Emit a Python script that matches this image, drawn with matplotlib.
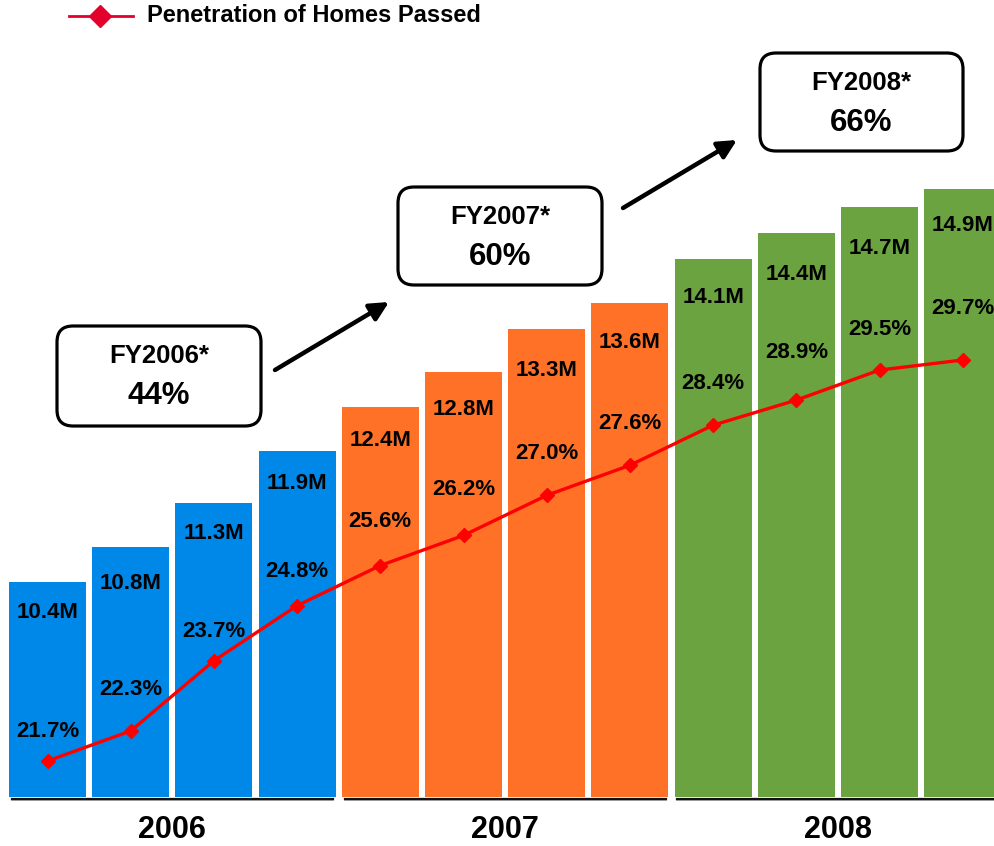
import matplotlib
matplotlib.use("Agg")
import matplotlib.pyplot as plt
from matplotlib.lines import Line2D
from matplotlib.patches import FancyBboxPatch, FancyArrowPatch
from matplotlib.transforms import blended_transform_factory

plt.rcParams['font.family'] = ['Liberation Sans', 'DejaVu Sans']
plt.rcParams['font.weight'] = 'bold'

# ---- data ----
years = ["2006", "2007", "2008"]
homes_passed = [10.4, 10.8, 11.3, 11.9, 12.4, 12.8, 13.3, 13.6, 14.1, 14.4, 14.7, 14.9]  # millions
penetration = [21.7, 22.3, 23.7, 24.8, 25.6, 26.2, 27.0, 27.6, 28.4, 28.9, 29.5, 29.7]   # percent
bar_year = ["2006"] * 4 + ["2007"] * 4 + ["2008"] * 4
fy_labels = ["FY2006*", "FY2007*", "FY2008*"]
fy_values = ["44%", "60%", "66%"]
legend_label = "Penetration of Homes Passed"

# ---- style ----
year_colors = {"2006": "#0088E8", "2007": "#FF7126", "2008": "#6AA33F"}
line_color = "#FF0000"
W, H, DPI = 994, 846, 100

fig = plt.figure(figsize=(W / DPI, H / DPI), dpi=DPI)
ax = fig.add_axes([0, (H - 797) / H, 1, 797 / H])
ax2 = ax.twinx()

x = list(range(len(homes_passed)))
colors = [year_colors[y] for y in bar_year]
ax.bar(x, homes_passed, width=0.925, color=colors, zorder=2)
ax.set_xlim(-0.571, 11.376)
ax.set_ylim(7.937, 7.937 + 797 / 87.3)

ax2.plot(x, penetration, color=line_color, lw=2.4, marker='D', ms=7.5, zorder=3)
ax2.set_ylim(20.982, 20.982 + 797 / 50.125)
ax2.set_xlim(ax.get_xlim())

for a in (ax, ax2):
    for s in a.spines.values():
        s.set_visible(False)
    a.set_xticks([])
    a.set_yticks([])

# bar value labels (offset below bar top, in px)
bar_off = [31, 36, 30, 32, 33, 37, 42, 40, 39, 42, 42, 36]
for i, v in enumerate(homes_passed):
    ax.annotate(f"{v:.1f}M", (i, v), xytext=(0, -bar_off[i] * 0.72),
                textcoords='offset points', ha='center', va='center',
                fontsize=16, fontweight='bold', color='black', zorder=4)

# percentage labels (offset above points, in px)
pct_off = [30, 41, 29, 34, 44, 46, 42, 42, 42, 48, 41, 52]
for i, v in enumerate(penetration):
    ax2.annotate(f"{v:.1f}%", (i, v), xytext=(0, pct_off[i] * 0.72),
                 textcoords='offset points', ha='center', va='center',
                 fontsize=16, fontweight='bold', color='black', zorder=4)

# group underlines and year labels
tr = blended_transform_factory(ax.transData, fig.transFigure)
for k, yr in enumerate(years):
    idx = [i for i, b in enumerate(bar_year) if b == yr]
    x0, x1 = idx[0] - 0.43, idx[-1] + 0.43
    fig.add_artist(Line2D([x0, x1], [(H - 800) / H] * 2, transform=tr,
                          color='#999999', lw=1.2))
    fig.add_artist(Line2D([x0, x1], [(H - 799) / H] * 2, transform=tr,
                          color='#111111', lw=1.6))
    fig.text((idx[0] + idx[-1]) / 2, (H - 830) / H, yr, transform=tr,
             ha='center', va='center', fontsize=22, fontweight='bold')

# helper: pixel (top-left origin) -> inches
def P(px, py):
    return (px / DPI, (H - py) / DPI)

ptr = fig.dpi_scale_trans

# legend
fig.add_artist(Line2D([69 / DPI, 133 / DPI], [(H - 16) / DPI] * 2, transform=ptr,
                      color='#E3002B', lw=2))
fig.add_artist(Line2D([100 / DPI], [(H - 16) / DPI], transform=ptr,
                      color='#E3002B', marker='D', ms=11, lw=0))
fig.text(*P(147, 16), legend_label, transform=ptr, ha='left', va='center',
         fontsize=17, fontweight='bold')

# FY boxes
boxes = [(57, 326, 261, 426), (398, 187, 602, 285), (760, 53, 963, 151)]
for (x0, y0, x1, y1), lab, val in zip(boxes, fy_labels, fy_values):
    bx, by = P(x0, y1)
    patch = FancyBboxPatch((bx, by), (x1 - x0) / DPI, (y1 - y0) / DPI,
                           boxstyle="round,pad=0,rounding_size=0.16",
                           transform=ptr, facecolor='white', edgecolor='black', lw=2.3)
    fig.add_artist(patch)
    cx = (x0 + x1) / 2
    fig.text(*P(cx, y0 + 30), lab, transform=ptr, ha='center', va='center',
             fontsize=18.5, fontweight='bold')
    fig.text(*P(cx, y0 + 70), val, transform=ptr, ha='center', va='center',
             fontsize=22.5, fontweight='bold')

# arrows
for (sx, sy), (ex, ey) in [((275, 370), (389, 302)), ((623, 208), (737, 140))]:
    fig.add_artist(FancyArrowPatch(P(sx, sy), P(ex, ey), transform=ptr,
                                   arrowstyle='-|>', mutation_scale=28, lw=3.2,
                                   color='black', shrinkA=0, shrinkB=0))

fig.savefig("out.png", dpi=DPI)
